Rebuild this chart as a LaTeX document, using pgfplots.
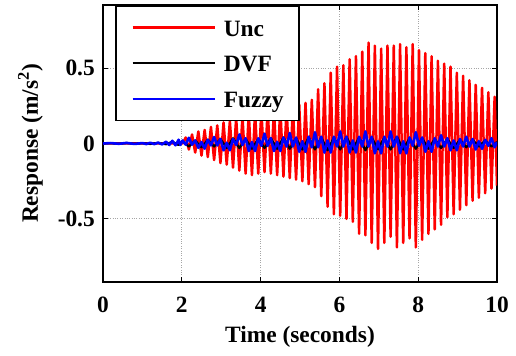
\documentclass[border=0pt]{standalone}
\usepackage{pgfplots}
\pgfplotsset{compat=1.18}
\usepackage{fontspec}
\setmainfont{Liberation Serif}
\newcommand{\bigbf}{\fontsize{23.4bp}{28bp}\selectfont\bfseries}
\begin{document}
\begin{tikzpicture}
\begin{axis}[
  scale only axis,
  width=394bp, height=277bp,
  xmin=0, xmax=10, ymin=-0.92, ymax=0.92,
  xtick={0,2,4,6,8,10},
  ytick={-0.5,0,0.5},
  /pgf/number format/assume math mode=true,
  tick label style={font=\bigbf},
  xticklabel style={anchor=base, inner sep=0pt, yshift=-30bp},
  yticklabel style={anchor=east, inner sep=0pt, xshift=-8bp},
  tick align=inside,
  major tick length=5bp,
  tick style={line width=1bp, black},
  axis line style={line width=1.6bp},
  grid=major,
  grid style={dotted, gray!70, line width=0.6bp},
  every axis x label/.style={at={(axis description cs:0.5,-0.218)}, anchor=base, font=\bigbf},
  every axis y label/.style={at={(axis description cs:-0.165,0.5)}, rotate=90, anchor=base, font=\bigbf},
  xlabel={Time (seconds)},
  ylabel={Response (m/s\textsuperscript{2})},
  legend style={at={(axis description cs:0.0305,1)}, anchor=north west,
    font=\bigbf, line width=1.6bp, inner xsep=15.5bp, inner ysep=7.5bp,
    nodes={inner sep=0pt, text height=23bp, text depth=5.5bp},
    row sep=7.2bp, column sep=8bp},
  legend cell align=left,
  legend image code/.code={\draw[#1, line width=2.5bp] (0bp,0bp) -- (82bp,0bp);},
]
\addplot[red, line width=2.5bp, line join=round] coordinates {
(0,0) (2.02,0)
(2.10,0.04) (2.18,-0.04) (2.26,0.06) (2.34,-0.06) (2.42,0.08) (2.50,-0.08)
(2.58,0.09) (2.66,-0.09) (2.74,0.11) (2.82,-0.11) (2.90,0.12) (2.98,-0.13)
(3.06,0.14) (3.14,-0.14) (3.22,0.15) (3.30,-0.16) (3.38,0.17) (3.46,-0.18)
(3.54,0.18) (3.62,-0.20) (3.70,0.20) (3.78,-0.21) (3.86,0.21) (3.94,-0.20)
(4.02,0.22) (4.10,-0.19) (4.18,0.23) (4.26,-0.20) (4.34,0.23) (4.42,-0.21)
(4.50,0.24) (4.58,-0.22) (4.66,0.24) (4.74,-0.23) (4.82,0.25) (4.90,-0.24)
(4.98,0.26) (5.06,-0.25) (5.14,0.27) (5.22,-0.27) (5.30,0.29) (5.38,-0.29)
(5.46,0.36) (5.54,-0.35) (5.62,0.40) (5.70,-0.42) (5.78,0.47) (5.86,-0.47)
(5.94,0.51) (6.02,-0.48) (6.10,0.52) (6.18,-0.50) (6.26,0.56) (6.34,-0.52)
(6.42,0.58) (6.50,-0.60) (6.58,0.61) (6.66,-0.61) (6.74,0.67) (6.82,-0.66)
(6.90,0.65) (6.98,-0.70) (7.06,0.63) (7.14,-0.66) (7.22,0.65) (7.30,-0.62)
(7.38,0.65) (7.46,-0.69) (7.54,0.66) (7.62,-0.66) (7.70,0.64) (7.78,-0.63)
(7.86,0.66) (7.94,-0.69) (8.02,0.62) (8.10,-0.64) (8.18,0.60) (8.26,-0.60)
(8.34,0.58) (8.42,-0.57) (8.50,0.55) (8.58,-0.54) (8.66,0.53) (8.74,-0.49)
(8.82,0.51) (8.90,-0.47) (8.98,0.47) (9.06,-0.44) (9.14,0.45) (9.22,-0.41)
(9.30,0.42) (9.38,-0.38) (9.46,0.39) (9.54,-0.36) (9.62,0.37) (9.70,-0.33)
(9.78,0.34) (9.86,-0.30) (9.94,0.31) (10.00,-0.28)
};
\addlegendentry{Unc}
\addplot[black, line width=2.2bp, line join=round] coordinates {
(0,0) (0.2,0.002) (0.4,-0.002) (0.6,0.003) (0.8,-0.002) (1.0,0.002) (1.2,-0.003)
(1.4,0.004) (1.6,-0.005) (1.76,0.012) (1.92,-0.01) (2.02,0.015)
(2.18,-0.02) (2.34,0.02) (2.50,-0.025) (2.66,0.025) (2.82,-0.02) (2.98,0.03)
(3.14,-0.03) (3.30,0.035) (3.46,-0.03) (3.62,0.03) (3.78,-0.035) (3.94,0.03)
(4.10,-0.03) (4.26,0.035) (4.42,-0.035) (4.58,0.04) (4.74,-0.035) (4.90,0.035)
(5.06,-0.04) (5.22,0.04) (5.38,-0.04) (5.54,0.04) (5.70,-0.045) (5.86,0.04)
(6.02,-0.04) (6.18,0.045) (6.34,-0.04) (6.50,0.04) (6.66,-0.045) (6.82,0.04)
(6.98,-0.04) (7.14,0.04) (7.30,-0.04) (7.46,0.045) (7.62,-0.04) (7.78,0.035)
(7.94,-0.035) (8.10,0.035) (8.26,-0.035) (8.42,0.03) (8.58,-0.03) (8.74,0.03)
(8.90,-0.03) (9.06,0.025) (9.22,-0.025) (9.38,0.025) (9.54,-0.02) (9.70,0.02)
(9.86,-0.02) (10.0,0.01)
};
\addlegendentry{DVF}
\addplot[blue, line width=2.6bp, line join=round] coordinates {
(0,0) (0.2,0.003) (0.4,-0.002) (0.6,0.004) (0.8,-0.003) (1.0,0.003) (1.1,-0.004)
(1.2,0.005) (1.3,-0.004) (1.4,0.006) (1.5,-0.006) (1.6,0.012) (1.68,-0.01)
(1.76,0.018) (1.84,-0.012) (1.92,0.025) (1.96,-0.01)
(2.02,0.02) (2.10,-0.008) (2.18,0.038) (2.26,-0.008) (2.34,0.02) (2.42,-0.029)
(2.50,0.01) (2.58,-0.034) (2.66,0.025) (2.74,-0.013) (2.82,0.043) (2.90,-0.013)
(2.98,0.03) (3.06,-0.045) (3.14,0.005) (3.22,-0.045) (3.30,0.03) (3.38,-0.01)
(3.46,0.06) (3.54,-0.01) (3.62,0.035) (3.70,-0.05) (3.78,0.01) (3.86,-0.05)
(3.94,0.035) (4.02,-0.015) (4.10,0.065) (4.18,-0.015) (4.26,0.035) (4.34,-0.05)
(4.42,0.01) (4.50,-0.05) (4.58,0.04) (4.66,-0.02) (4.74,0.07) (4.82,-0.02)
(4.90,0.04) (4.98,-0.055) (5.06,0.015) (5.14,-0.055) (5.22,0.045) (5.30,-0.025)
(5.38,0.075) (5.46,-0.025) (5.54,0.045) (5.62,-0.06) (5.70,0.02) (5.78,-0.06)
(5.86,0.045) (5.94,-0.02) (6.02,0.08) (6.10,-0.02) (6.18,0.045) (6.26,-0.06)
(6.34,0.02) (6.42,-0.06) (6.50,0.045) (6.58,-0.02) (6.66,0.08) (6.74,-0.02)
(6.82,0.045) (6.90,-0.065) (6.98,0.015) (7.06,-0.065) (7.14,0.045) (7.22,-0.02)
(7.30,0.08) (7.38,-0.02) (7.46,0.045) (7.54,-0.065) (7.62,0.015) (7.70,-0.065)
(7.78,0.04) (7.86,-0.015) (7.94,0.075) (8.02,-0.015) (8.10,0.04) (8.18,-0.055)
(8.26,0.015) (8.34,-0.055) (8.42,0.035) (8.50,-0.02) (8.58,0.055) (8.66,-0.02)
(8.74,0.035) (8.82,-0.045) (8.90,0.02) (8.98,-0.045) (9.06,0.03) (9.14,-0.02)
(9.22,0.045) (9.30,-0.02) (9.38,0.03) (9.46,-0.04) (9.54,0.015) (9.62,-0.035)
(9.70,0.025) (9.78,-0.015) (9.86,0.035) (9.94,-0.025) (10.0,0.01)
};
\addlegendentry{Fuzzy}
\end{axis}
\pgfresetboundingbox
\path ([shift={(-103bp,-74bp)}]current axis.south west) rectangle ([shift={(19bp,5bp)}]current axis.north east);
\end{tikzpicture}
\end{document}
